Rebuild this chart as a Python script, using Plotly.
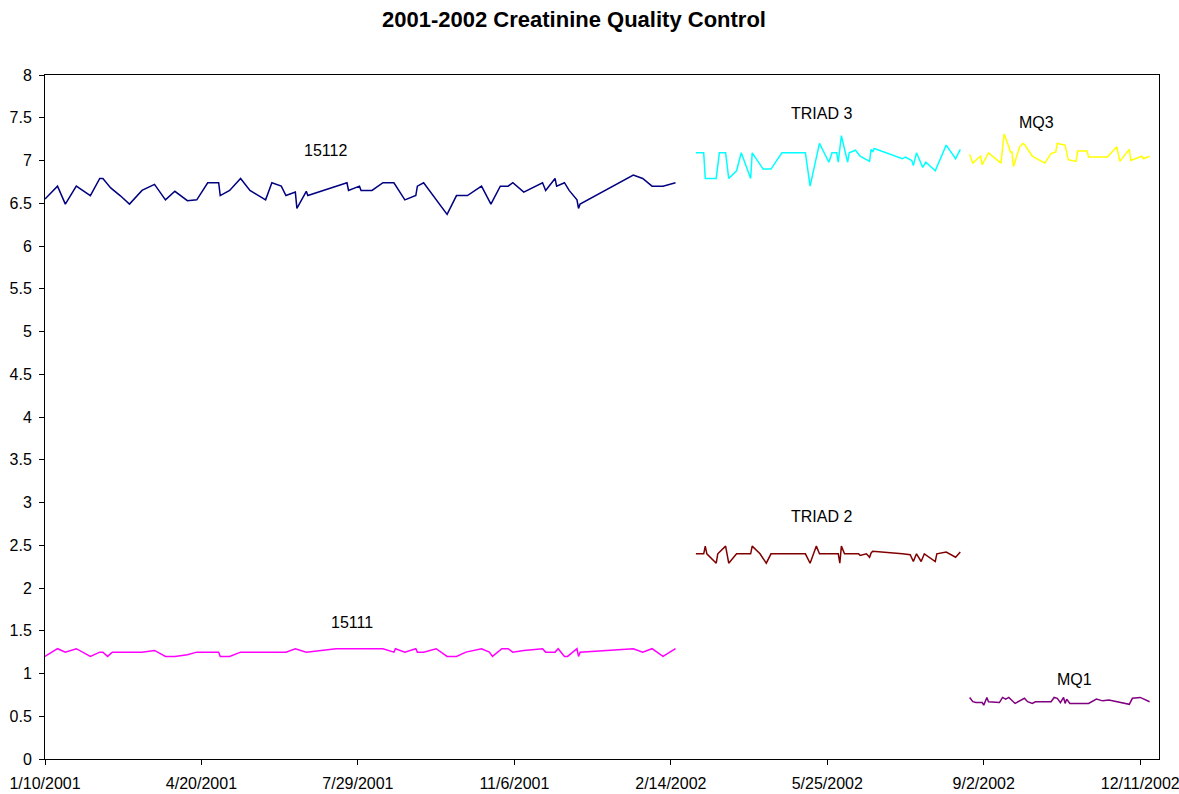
import pandas as pd
import plotly.graph_objects as go

START = "2001-01-10"

# days since 1/10/2001 and values
d15112 = [0,8,13,20,29,35,37,42,48,54,62,70,77,83,91,97,104,111,112,118,
          125,131,141,145,151,154,160,161,167,168,193,194,201,202,209,216,223,230,237,238,
          242,250,257,263,270,279,285,291,296,299,306,318,320,326,327,332,335,340,341,342,
          376,382,388,395,403]
v15112 = [6.55,6.70,6.49,6.70,6.59,6.79,6.79,6.68,6.59,6.49,6.65,6.72,6.54,6.64,6.53,6.54,6.74,6.74,6.59,6.65,
          6.79,6.65,6.54,6.74,6.70,6.59,6.63,6.44,6.64,6.59,6.74,6.65,6.70,6.65,6.65,6.74,6.74,6.54,6.59,6.70,
          6.74,6.55,6.37,6.59,6.59,6.70,6.49,6.70,6.70,6.74,6.63,6.74,6.65,6.79,6.70,6.74,6.65,6.54,6.44,6.49,
          6.83,6.79,6.70,6.70,6.74]

d15111 = [0,8,13,20,29,35,37,40,43,62,70,77,83,91,97,111,112,118,125,154,
          160,167,186,208,216,223,224,230,237,238,242,250,257,263,269,279,284,286,292,296,
          299,306,318,320,326,328,332,334,340,341,342,376,382,388,395,403]
v15111 = [1.20,1.29,1.25,1.29,1.20,1.25,1.25,1.20,1.25,1.25,1.27,1.20,1.20,1.22,1.25,1.25,1.20,1.20,1.25,1.25,
          1.29,1.25,1.29,1.29,1.29,1.25,1.29,1.25,1.29,1.25,1.25,1.29,1.20,1.20,1.25,1.29,1.25,1.20,1.29,1.29,
          1.25,1.27,1.29,1.25,1.25,1.29,1.20,1.20,1.29,1.20,1.25,1.29,1.25,1.29,1.20,1.29]

dTriad3 = [416,421,422,429,431,435,437,442,445,451,452,459,464,471,486,489,495,501,503,506,
           507,509,513,514,518,521,527,528,529,530,548,550,554,555,557,561,563,569,576,582,585]
vTriad3 = [7.09,7.09,6.79,6.79,7.09,7.09,6.79,6.88,7.09,6.79,7.09,6.90,6.90,7.09,7.09,6.70,7.20,6.98,7.09,7.09,
           6.98,7.29,6.98,7.09,7.12,7.05,6.99,7.13,7.10,7.14,7.02,7.04,7.00,6.94,7.09,6.92,6.98,6.88,7.18,7.02,7.13]

dTriad2 = [416,421,422,423,429,430,435,437,442,451,452,457,461,464,486,489,493,495,507,508,
           509,511,520,521,525,527,528,529,548,553,555,557,560,562,569,570,576,582,585]
vTriad2 = [2.40,2.40,2.49,2.40,2.29,2.40,2.49,2.29,2.40,2.40,2.49,2.40,2.29,2.40,2.40,2.29,2.49,2.40,2.40,2.29,
           2.49,2.40,2.40,2.38,2.40,2.36,2.41,2.43,2.40,2.39,2.31,2.40,2.31,2.40,2.31,2.40,2.42,2.36,2.42]

dMQ3 = [591,593,596,598,599,601,603,611,613,616,617,618,619,623,625,626,631,639,643,646,
        647,652,654,659,660,666,667,679,685,687,693,694,701,702,706]
vMQ3 = [7.07,6.97,7.02,7.05,6.95,7.02,7.09,6.97,7.31,7.16,7.10,7.10,6.93,7.16,7.20,7.19,7.05,6.97,7.08,7.10,
        7.20,7.18,7.01,6.99,7.11,7.11,7.04,7.04,7.16,6.99,7.13,7.00,7.05,7.02,7.05]

dMQ1 = [591,593,595,599,600,602,603,610,612,614,616,620,626,628,631,633,643,645,647,649,
        651,652,653,655,667,672,676,680,693,695,700,706]
vMQ1 = [0.72,0.67,0.66,0.66,0.63,0.72,0.67,0.66,0.72,0.70,0.72,0.65,0.71,0.67,0.65,0.67,0.67,0.72,0.71,0.66,
        0.72,0.65,0.70,0.65,0.65,0.70,0.68,0.69,0.64,0.71,0.72,0.67]

series = [
    ("15112", d15112, v15112, "#000080"),
    ("15111", d15111, v15111, "#FF00FF"),
    ("TRIAD 3", dTriad3, vTriad3, "#00FFFF"),
    ("TRIAD 2", dTriad2, vTriad2, "#800000"),
    ("MQ3", dMQ3, vMQ3, "#FFFF00"),
    ("MQ1", dMQ1, vMQ1, "#800080"),
]

start = pd.Timestamp(START)

def to_dates(days):
    return [start + pd.Timedelta(days=int(d)) for d in days]

FONT = "Arial, Liberation Sans, sans-serif"

fig = go.Figure()
for name, d, v, c in series:
    fig.add_trace(go.Scatter(x=to_dates(d), y=v, mode="lines", name=name,
                             line=dict(color=c, width=1.5), showlegend=False))

labels = [
    ("15112", 179, 7.12),
    ("15111", 196, 1.60),
    ("TRIAD 3", 496, 7.55),
    ("MQ3", 634, 7.45),
    ("TRIAD 2", 496, 2.84),
    ("MQ1", 658, 0.935),
]
for text, d, y in labels:
    fig.add_annotation(x=start + pd.Timedelta(days=d), y=y, text=text, showarrow=False,
                       font=dict(family=FONT, size=16, color="black"))

fig.update_layout(
    width=1179, height=794,
    margin=dict(l=45, r=20, t=75, b=35, autoexpand=False),
    paper_bgcolor="white", plot_bgcolor="white",
    font=dict(family=FONT, size=16, color="black"),
    title=dict(text="<b>2001-2002 Creatinine Quality Control</b>",
               x=574/1179, xanchor="center", xref="container",
               y=1-19/794, yanchor="middle", yref="container",
               font=dict(family=FONT, size=22, color="black")),
)
fig.update_xaxes(
    type="date", range=[start, start + pd.Timedelta(days=712)],
    tick0=start, dtick=100 * 86400000, tickformat="%-m/%-d/%Y",
    showgrid=False, zeroline=False,
    showline=True, linecolor="black", linewidth=1, mirror=True,
    ticks="outside", ticklen=5, tickcolor="black", ticklabelstandoff=5,
    ticklabeloverflow="allow",
    tickfont=dict(family=FONT, size=16, color="black"),
)
fig.update_yaxes(
    range=[0, 8], dtick=0.5, tick0=0,
    showgrid=False, zeroline=False,
    showline=True, linecolor="black", linewidth=1, mirror=True,
    ticks="outside", ticklen=5, tickcolor="black", ticklabelstandoff=4,
    tickfont=dict(family=FONT, size=16, color="black"),
)

# remove the default page margin so the figure fills the window exactly
fig.write_html("out.html", config={"displayModeBar": False},
               post_script="document.body.style.margin='0';document.body.style.overflow='hidden';")
